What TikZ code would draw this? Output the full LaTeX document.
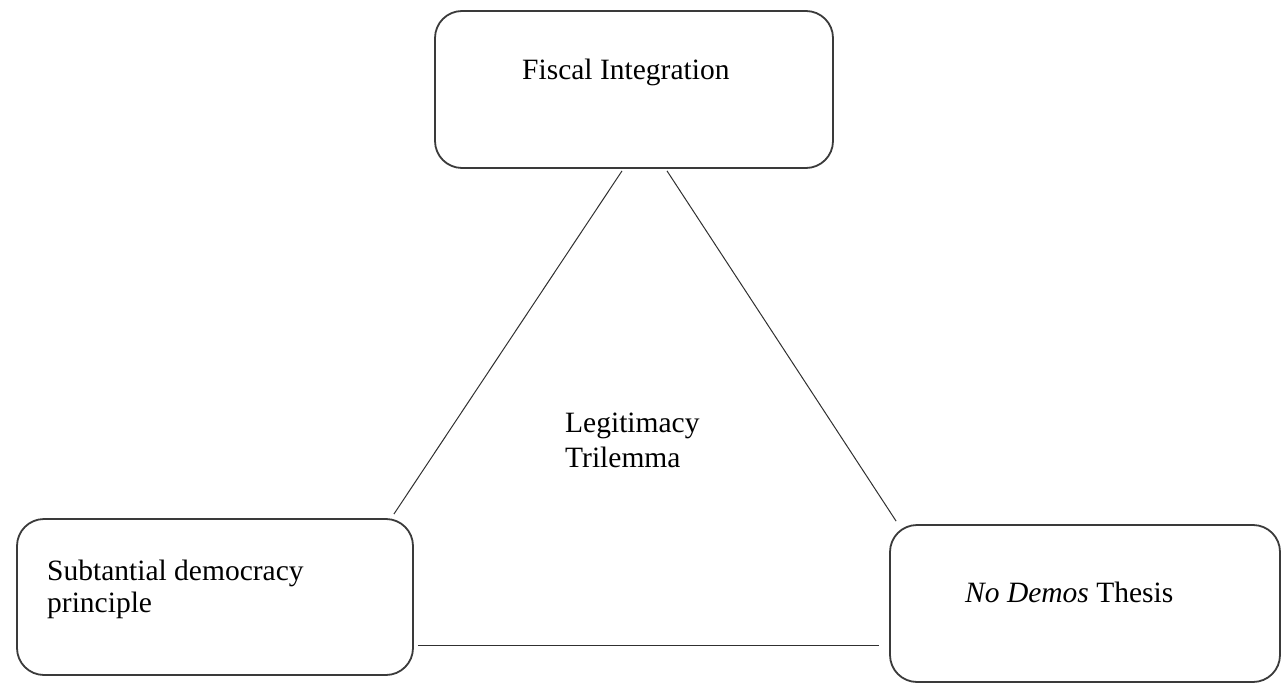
\documentclass[tikz,border=0pt]{standalone}
\usepackage{fontspec}
\setmainfont{Liberation Serif}
\begin{document}
\begin{tikzpicture}[x=1pt,y=-1pt,
  box/.style={draw=boxgray,line width=1.8pt,rounded corners=27pt,inner sep=0pt},
  conn/.style={draw=linegray,line width=1pt},
  lbl/.style={inner sep=0pt,anchor=base west,align=left}]
\definecolor{boxgray}{HTML}{3A3A3A}
\definecolor{linegray}{HTML}{303030}
\useasboundingbox (0,0) rectangle (1281,684);
\node[box,minimum width=398pt,minimum height=157pt] (top) at (634,89.5) {};
\node[box,minimum width=396pt,minimum height=156pt] (left) at (215,597) {};
\node[box,minimum width=390pt,minimum height=157pt] (right) at (1085,603.5) {};
\node[lbl,font=\fontsize{29.5}{34}\selectfont] (toptxt) at (522,80) {Fiscal Integration};
\node[lbl,font=\fontsize{29.5}{35}\selectfont] (midtxt) at (565,467) {Legitimacy\\Trilemma};
\node[lbl,font=\fontsize{29.5}{32}\selectfont] (lefttxt) at (47,612) {Subtantial democracy\\principle};
\node[lbl,font=\fontsize{29.5}{34}\selectfont] (righttxt) at (965,602) {\textit{No Demos} Thesis};
\draw[conn] ([xshift=-12pt,yshift=-2pt]top.south) -- ([xshift=-20pt,yshift=4pt]left.north east);
\draw[conn] ([xshift=33pt,yshift=-2pt]top.south) -- ([xshift=7pt,yshift=3pt]right.north west);
\draw[conn] ([xshift=4pt,yshift=30pt]left.south east) -- ([xshift=-10pt,yshift=37pt]right.south west);
\end{tikzpicture}
\end{document}
